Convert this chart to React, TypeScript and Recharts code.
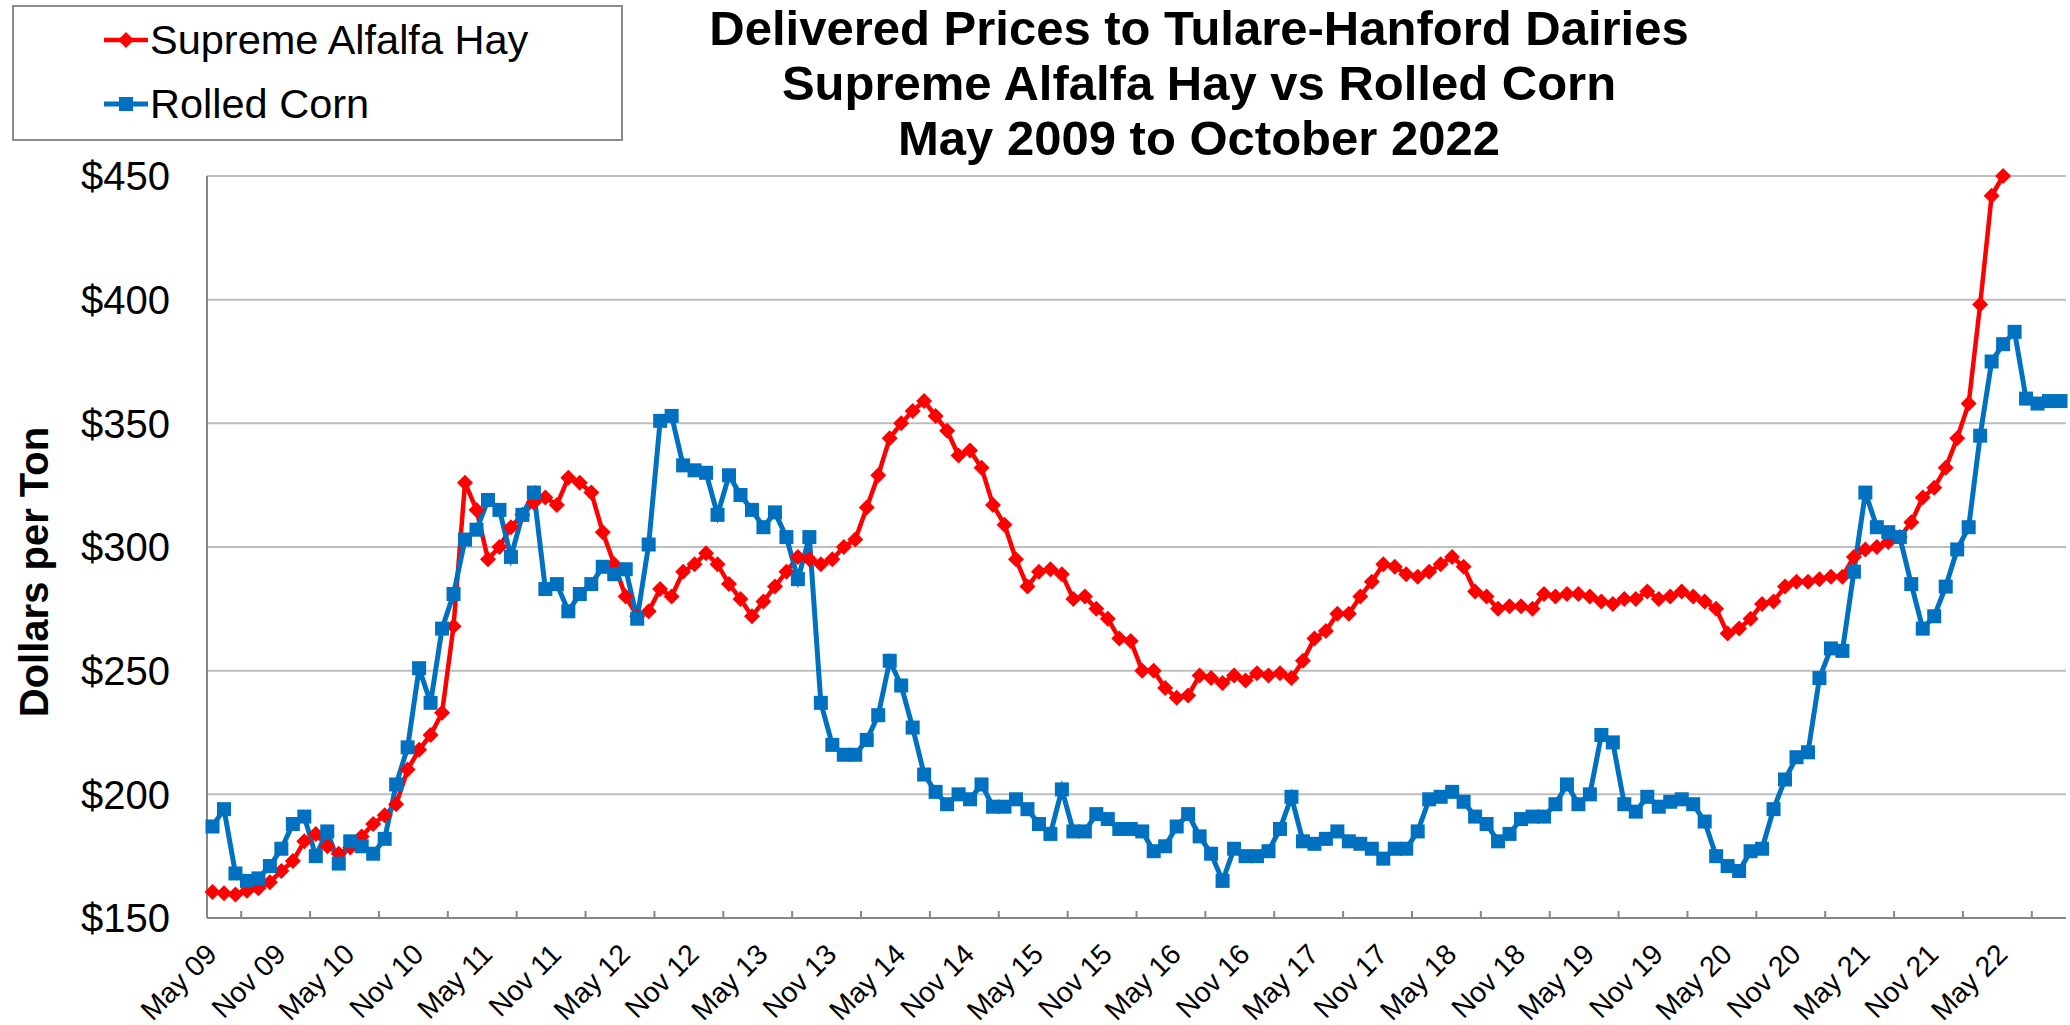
import React from "react"
import { LineChart, Line, XAxis, YAxis, CartesianGrid } from "recharts"

// Monthly categories, May 2009 .. Oct 2022 (162 months)
const MONTH_NAMES = ["Jan", "Feb", "Mar", "Apr", "May", "Jun", "Jul", "Aug", "Sep", "Oct", "Nov", "Dec"]
const START_MONTH = 4 // May
const START_YEAR = 2009
const MONTH_COUNT = 162

const months: string[] = []
for (let i = 0; i < MONTH_COUNT; i++) {
  const m = (START_MONTH + i) % 12
  const y = START_YEAR + Math.floor((START_MONTH + i) / 12)
  months.push(`${MONTH_NAMES[m]} ${String(y % 100).padStart(2, "0")}`)
}

// Supreme Alfalfa Hay, $/ton (ends May 22)
const alfalfa = [
  160.5, 160, 159.5, 161, 162, 164.5, 169, 173, 181, 184, 179, 176,
  178.5, 183, 188, 191.5, 196, 210, 218, 224, 233, 268, 326, 315,
  295, 300, 308, 313, 318, 320, 317, 328, 326, 322, 306, 293,
  280, 272, 274, 283, 280, 290, 293, 297.5, 293, 285, 279, 272,
  278, 284, 290, 296, 295, 293, 295, 300, 303, 316, 329, 344,
  350, 355, 359, 353, 347, 337, 339, 332, 317, 309, 295, 284,
  290, 291, 289, 279, 280, 275, 271, 263, 262, 250, 250, 243,
  239, 240, 248, 247, 245, 248, 246, 249, 248, 249, 247, 254,
  263, 266, 273, 273, 280, 286, 293, 292, 289, 288, 290, 293,
  296, 292, 282, 280, 275, 276, 276, 275, 281, 280, 281, 281,
  280, 278, 277, 279, 279, 282, 279, 280, 282, 280, 278, 275,
  265, 267, 271, 277, 278, 284, 286, 286, 287, 288, 288, 296,
  299, 300, 302, 304, 310, 320, 324, 332, 344, 358, 398, 442,
  450,
]

// Rolled Corn, $/ton (ends Oct 22)
const corn = [
  187, 194, 168, 165, 166, 171, 178, 188, 191, 175, 185, 172,
  181, 179, 176, 182, 204, 219, 251, 237, 267, 281, 303, 307,
  319, 315, 296, 313, 322, 283, 285, 274, 281, 285, 292, 289,
  291, 271, 301, 351, 353, 333, 331, 330, 313, 329, 321, 315,
  308, 314, 304, 287, 304, 237, 220, 216, 216, 222, 232, 254,
  244, 227, 208, 201, 196, 200, 198, 204, 195, 195, 198, 194,
  188, 184, 202, 185, 185, 192, 190, 186, 186, 185, 177, 179,
  187, 192, 183, 176, 165, 178, 175, 175, 177, 186, 199, 181,
  180, 182, 185, 181, 180, 178, 174, 178, 178, 185, 198, 199,
  201, 197, 191, 188, 181, 184, 190, 191, 191, 196, 204, 196,
  200, 224, 221, 196, 193, 199, 195, 197, 198, 196, 189, 175,
  171, 169, 177, 178, 194, 206, 215, 217, 247, 259, 258, 290,
  322, 308, 306, 304, 285, 267, 272, 284, 299, 308, 345, 375,
  382, 387, 360, 358, 359, 359,
]

const Y_TICKS = [150, 200, 250, 300, 350, 400, 450]

const TITLE_LINES = [
  "Delivered Prices to Tulare-Hanford Dairies",
  "Supreme Alfalfa Hay vs Rolled Corn",
  "May 2009 to October 2022",
]

const SERIES = [
  { key: "alfalfa", label: "Supreme Alfalfa Hay", color: "#FF0000", marker: "diamond", size: 16, width: 4.5 },
  { key: "corn", label: "Rolled Corn", color: "#0070C0", marker: "square", size: 14, width: 5 },
]

const data = months.map((month, i) => ({
  month,
  alfalfa: alfalfa[i],
  corn: corn[i],
}))

const W = 2070
const H = 1025
const PLOT_LEFT = 207
const PLOT_RIGHT = 2066
const PLOT_TOP = 176
const PLOT_BOTTOM = 918
const X_PAD = 5.5
const STEP = (PLOT_RIGHT - PLOT_LEFT - 2 * X_PAD) / (MONTH_COUNT - 1)
const AXIS_COLOR = "#878787"
const GRID_COLOR = "#BEBEBE"
const FONT = "'Liberation Sans', Arial, sans-serif"

function Marker({ cx, cy, type, color, size = 13 }: any) {
  if (cx == null || cy == null) return null
  const h = size / 2
  if (type === "diamond") {
    return <polygon points={`${cx},${cy - h} ${cx + h},${cy} ${cx},${cy + h} ${cx - h},${cy}`} fill={color} />
  }
  return <rect x={cx - h} y={cy - h} width={size} height={size} fill={color} />
}

function XTick({ x, y, payload }: any) {
  const tx = x + 6
  const ty = y + 36
  return (
    <g>
      <line
        x1={x + 2.5 * STEP}
        x2={x + 2.5 * STEP}
        y1={PLOT_BOTTOM}
        y2={PLOT_BOTTOM - 7}
        stroke={AXIS_COLOR}
        strokeWidth={2}
      />
      <text
        x={tx}
        y={ty}
        transform={`rotate(-45 ${tx} ${ty})`}
        textAnchor="end"
        fontSize={28.5}
        fill="#000"
        fontFamily={FONT}
      >
        {payload.value}
      </text>
    </g>
  )
}

export default function App() {
  return (
    <div
      style={{
        position: "absolute",
        left: 0,
        top: 0,
        width: W,
        height: H,
        background: "#fff",
        fontFamily: FONT,
        overflow: "hidden",
      }}
    >
      <LineChart
        width={W}
        height={H}
        data={data}
        margin={{ top: PLOT_TOP, right: W - PLOT_RIGHT, bottom: 0, left: 0 }}
      >
        <CartesianGrid vertical={false} stroke={GRID_COLOR} strokeWidth={2} />
        <XAxis
          dataKey="month"
          interval={5}
          height={H - PLOT_BOTTOM}
          padding={{ left: X_PAD, right: X_PAD }}
          tickLine={false}
          tickSize={0}
          tick={<XTick />}
          axisLine={{ stroke: AXIS_COLOR, strokeWidth: 2 }}
        />
        <XAxis
          xAxisId="top"
          orientation="top"
          dataKey="month"
          height={0}
          tick={false}
          tickLine={false}
          axisLine={{ stroke: AXIS_COLOR, strokeWidth: 2 }}
        />
        <YAxis
          domain={[150, 450]}
          ticks={Y_TICKS}
          width={PLOT_LEFT}
          tickLine={false}
          tickSize={0}
          tickMargin={37}
          tickFormatter={(v) => `$${v}`}
          tick={{ fill: "#000", fontSize: 40, fontFamily: FONT }}
          axisLine={{ stroke: AXIS_COLOR, strokeWidth: 2 }}
        />
        <YAxis
          yAxisId="right"
          orientation="right"
          domain={[150, 450]}
          width={0}
          tick={false}
          tickLine={false}
          axisLine={{ stroke: AXIS_COLOR, strokeWidth: 2 }}
        />
        {SERIES.map((s) => (
          <Line
            key={s.key}
            type="linear"
            dataKey={s.key}
            stroke={s.color}
            strokeWidth={s.width}
            isAnimationActive={false}
            dot={(p: any) => (
              <Marker key={`${s.key}-${p.index}`} cx={p.cx} cy={p.cy} type={s.marker} color={s.color} size={s.size} />
            )}
            activeDot={false}
          />
        ))}
      </LineChart>

      {/* title */}
      <div
        style={{
          position: "absolute",
          left: 1199 - 600,
          width: 1200,
          top: 1,
          textAlign: "center",
          fontWeight: "bold",
          fontSize: 49,
          lineHeight: "55px",
          color: "#000",
        }}
      >
        {TITLE_LINES.map((t) => (
          <div key={t}>{t}</div>
        ))}
      </div>

      {/* y axis title */}
      <div
        style={{
          position: "absolute",
          left: 34 - 200,
          top: 572 - 25,
          width: 400,
          height: 50,
          lineHeight: "50px",
          textAlign: "center",
          fontWeight: "bold",
          fontSize: 40,
          transform: "rotate(-90deg)",
          color: "#000",
        }}
      >
        Dollars per Ton
      </div>

      {/* legend */}
      <div
        style={{
          position: "absolute",
          left: 12,
          top: 5,
          width: 607,
          height: 132,
          border: "2px solid #8c8c8c",
          background: "#fff",
        }}
      >
        {SERIES.map((s, i) => (
          <div
            key={s.key}
            style={{
              position: "absolute",
              left: 90,
              top: 9 + i * 64,
              height: 48,
              display: "flex",
              alignItems: "center",
              fontSize: 41.5,
              color: "#000",
            }}
          >
            <svg width={44} height={20} style={{ marginRight: 2 }}>
              <line x1={0} x2={44} y1={10} y2={10} stroke={s.color} strokeWidth={s.width} />
              <Marker cx={22} cy={10} type={s.marker} color={s.color} size={s.size} />
            </svg>
            <span>{s.label}</span>
          </div>
        ))}
      </div>
    </div>
  )
}
